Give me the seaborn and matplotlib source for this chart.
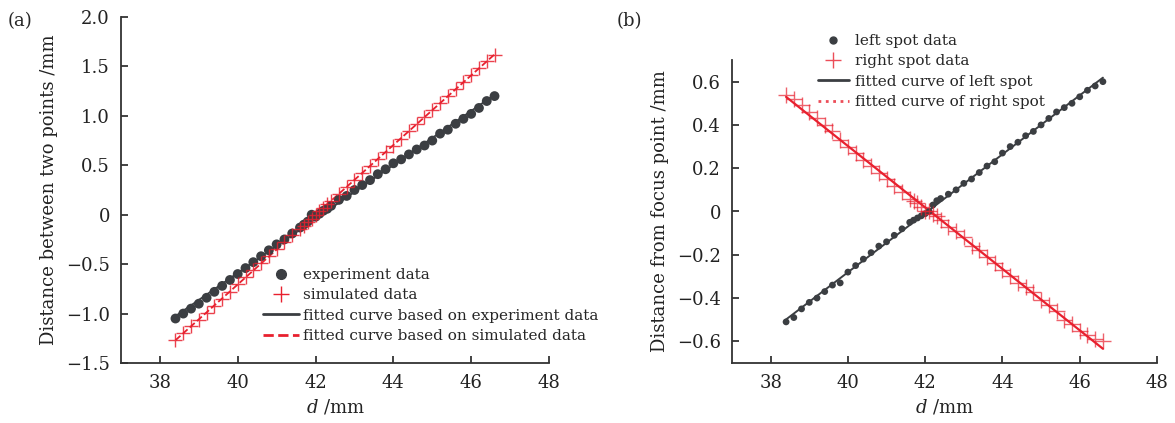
import numpy as np
import pandas as pd
import matplotlib
matplotlib.use('Agg')
import matplotlib.pyplot as plt
from matplotlib.lines import Line2D
import seaborn as sns

# d positions (mm), shared by all series
d_mm = [38.4, 38.6, 38.8, 39.0, 39.2, 39.4, 39.6, 39.8, 40.0, 40.2, 40.4, 40.6,
        40.8, 41.0, 41.2, 41.4, 41.6, 41.7, 41.8, 41.9, 42.0, 42.1, 42.2, 42.3,
        42.4, 42.6, 42.8, 43.0, 43.2, 43.4, 43.6, 43.8, 44.0, 44.2, 44.4, 44.6,
        44.8, 45.0, 45.2, 45.4, 45.6, 45.8, 46.0, 46.2, 46.4, 46.6]

# (a) distance between two points /mm
experiment = [-1.05, -1.00, -0.95, -0.90, -0.84, -0.78, -0.72, -0.66, -0.60, -0.54,
              -0.48, -0.42, -0.36, -0.30, -0.25, -0.19, -0.13, -0.10, -0.07, 0.00,
              -0.02, 0.01, 0.04, 0.06, 0.09, 0.15, 0.19, 0.25, 0.30, 0.35, 0.41,
              0.46, 0.52, 0.56, 0.61, 0.66, 0.70, 0.75, 0.82, 0.86, 0.92, 0.97,
              1.02, 1.08, 1.15, 1.20]
simulated = [-1.27, -1.20, -1.13, -1.06, -0.99, -0.92, -0.85, -0.78, -0.70, -0.63,
             -0.56, -0.49, -0.42, -0.35, -0.28, -0.21, -0.14, -0.11, -0.07, -0.04,
             0.00, 0.04, 0.07, 0.11, 0.14, 0.21, 0.28, 0.35, 0.42, 0.49, 0.56,
             0.63, 0.70, 0.77, 0.85, 0.92, 0.99, 1.06, 1.13, 1.20, 1.27, 1.34,
             1.41, 1.48, 1.55, 1.62]

# (b) distance from focus point /mm
left_spot = [-0.51, -0.49, -0.45, -0.42, -0.40, -0.37, -0.34, -0.33, -0.28, -0.25,
             -0.22, -0.19, -0.16, -0.14, -0.11, -0.08, -0.05, -0.04, -0.03, -0.02,
             -0.01, 0.00, 0.03, 0.05, 0.06, 0.08, 0.10, 0.13, 0.15, 0.18, 0.21,
             0.23, 0.27, 0.30, 0.32, 0.35, 0.37, 0.40, 0.43, 0.46, 0.48, 0.50,
             0.53, 0.56, 0.58, 0.60]
right_spot = [0.54, 0.52, 0.49, 0.46, 0.43, 0.40, 0.37, 0.33, 0.30, 0.27, 0.24,
              0.21, 0.18, 0.15, 0.12, 0.09, 0.06, 0.05, 0.04, 0.02, 0.00, 0.00,
              -0.01, -0.02, -0.04, -0.07, -0.09, -0.12, -0.16, -0.18, -0.21, -0.24,
              -0.27, -0.30, -0.33, -0.35, -0.37, -0.41, -0.43, -0.46, -0.50, -0.52,
              -0.55, -0.57, -0.59, -0.60]

GRAY = '#3b3e42'
RED = '#e8202e'
W, H = 1175, 423

sns.set_style('ticks')
plt.rcParams['font.family'] = ['DejaVu Serif']
plt.rcParams['mathtext.fontset'] = 'dejavuserif'

df = pd.DataFrame({'d': d_mm, 'exp': experiment, 'sim': simulated,
                   'left': left_spot, 'right': right_spot})

# linear fits
for col in ['exp', 'sim', 'left', 'right']:
    k, b = np.polyfit(df['d'], df[col], 1)
    df[col + '_fit'] = k * df['d'] + b

fig = plt.figure(figsize=(W / 100, H / 100), dpi=100)
ax1 = fig.add_axes([121 / W, 1 - 363 / H, (549 - 121) / W, (363 - 17) / H])
ax2 = fig.add_axes([732 / W, 1 - 363 / H, (1157 - 732) / W, (363 - 60) / H])


def style_axis(ax):
    sns.despine(ax=ax)
    for s in ['left', 'bottom']:
        ax.spines[s].set_linewidth(1.3)
        ax.spines[s].set_color('#333333')
    ax.tick_params(direction='in', length=5, width=1.2, labelsize=13,
                   colors='#222222', pad=8)
    ax.set_xlim(37, 48)
    ax.set_xticks([38, 40, 42, 44, 46, 48])
    ax.set_xlabel(r'$d$ /mm', fontsize=13, color='#222222', labelpad=4)


# (a)
sns.lineplot(data=df, x='d', y='sim_fit', ax=ax1, color=RED, lw=1.3,
             linestyle='--', zorder=3)
sns.lineplot(data=df, x='d', y='exp_fit', ax=ax1, color=GRAY, lw=1.3, zorder=2)
sns.scatterplot(data=df, x='d', y='exp', ax=ax1, color=GRAY, s=50,
                edgecolor='none', zorder=4)
sns.scatterplot(data=df, x='d', y='sim', ax=ax1, color=RED, marker='+', s=100,
                linewidth=1.0, alpha=0.85, zorder=5)
style_axis(ax1)
ax1.set_ylim(-1.5, 2.0)
ax1.set_yticks([-1.5, -1.0, -0.5, 0, 0.5, 1.0, 1.5, 2.0])
ax1.set_yticklabels(['\u22121.5', '\u22121.0', '\u22120.5', '0', '0.5', '1.0',
                     '1.5', '2.0'])
ax1.set_ylabel('Distance between two points /mm', fontsize=13, color='#222222',
               labelpad=6)

h1 = [Line2D([], [], color=GRAY, marker='o', ls='none', ms=7),
      Line2D([], [], color=RED, marker='+', ls='none', ms=11, mew=1.0),
      Line2D([], [], color=GRAY, lw=2),
      Line2D([], [], color=RED, lw=2, ls='--')]
l1 = ['experiment data', 'simulated data',
      'fitted curve based on experiment data',
      'fitted curve based on simulated data']
ax1.legend(h1, l1, loc='upper left', bbox_to_anchor=(263 / W, 1 - 268 / H),
           bbox_transform=fig.transFigure, frameon=False, fontsize=11,
           handlelength=2.35, handletextpad=0.25, borderpad=0,
           borderaxespad=0, labelspacing=0.42)

# (b)
sns.lineplot(data=df, x='d', y='left_fit', ax=ax2, color=GRAY, lw=1.4, zorder=2)
sns.lineplot(data=df, x='d', y='right_fit', ax=ax2, color=RED, lw=1.6, zorder=3)
sns.scatterplot(data=df, x='d', y='left', ax=ax2, color=GRAY, s=24,
                edgecolor='none', zorder=4)
sns.scatterplot(data=df, x='d', y='right', ax=ax2, color=RED, marker='+', s=130,
                linewidth=1.0, alpha=0.7, zorder=5)
style_axis(ax2)
ax2.set_ylim(-0.7, 0.7)
ax2.set_yticks([-0.6, -0.4, -0.2, 0, 0.2, 0.4, 0.6])
ax2.set_yticklabels(['\u22120.6', '\u22120.4', '\u22120.2', '0', '0.2', '0.4',
                     '0.6'])
ax2.set_ylabel('Distance from focus point /mm', fontsize=13, color='#222222',
               labelpad=6)

h2 = [Line2D([], [], color=GRAY, marker='o', ls='none', ms=5),
      Line2D([], [], color=RED, marker='+', ls='none', ms=12, mew=1.0, alpha=0.8),
      Line2D([], [], color=GRAY, lw=2),
      Line2D([], [], color=RED, lw=2, ls=':', alpha=0.8)]
l2 = ['left spot data', 'right spot data', 'fitted curve of left spot',
      'fitted curve of right spot']
ax2.legend(h2, l2, loc='upper left', bbox_to_anchor=(818 / W, 1 - 34 / H),
           bbox_transform=fig.transFigure, frameon=False, fontsize=11,
           handlelength=2.0, handletextpad=0.4, borderpad=0,
           borderaxespad=0, labelspacing=0.42)

fig.text(8 / W, 1 - 21 / H, '(a)', fontsize=13, va='center', ha='left')
fig.text(617 / W, 1 - 21 / H, '(b)', fontsize=13, va='center', ha='left')

fig.savefig('out.png', dpi=100)
